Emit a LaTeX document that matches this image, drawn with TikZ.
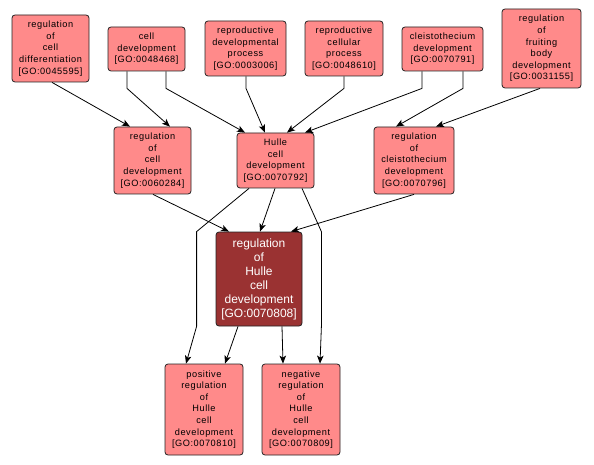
\documentclass[tikz,border=0pt]{standalone}
\usepackage{fontspec}
\setmainfont{Liberation Sans}
\newfontfamily\goFont[LetterSpace=6]{Liberation Sans}
\usepackage{xcolor}
\usetikzlibrary{arrows.meta,positioning,calc}
\definecolor{goFill}{HTML}{FF8A8A}
\definecolor{goFocus}{HTML}{9A3232}
\definecolor{goBorder}{HTML}{222222}
\tikzset{
    goterm/.style={rectangle,draw=goBorder,fill=goFill,rounded corners=3pt,line width=0.8pt,inner sep=0pt,align=center,font=\goFont\fontsize{9.2}{11.6}\selectfont},
    gofocus/.style={goterm,fill=goFocus,text=white,font=\fontsize{12}{14}\selectfont},
    isa/.style={-{Stealth[length=8pt,width=6.5pt,inset=2pt]},line width=0.8pt,black}
}
\begin{document}
\begin{tikzpicture}[x=1pt,y=-1pt]
  \useasboundingbox (0,0) rectangle (594,465);

  % Top row terms
  \node[goterm,minimum width=77pt,minimum height=67pt] (diff) at (50.5,48.5) {regulation\\of\\cell\\differentiation\\{[GO:0045595]}};
  \node[goterm,minimum width=77pt,minimum height=44pt] (celldev) at (146.5,49) {cell\\development\\{[GO:0048468]}};
  \node[goterm,minimum width=81pt,minimum height=55pt] (repdev) at (245.5,48.5) {reproductive\\developmental\\process\\{[GO:0003006]}};
  \node[goterm,minimum width=78pt,minimum height=55pt] (repcell) at (344,48.5) {reproductive\\cellular\\process\\{[GO:0048610]}};
  \node[goterm,minimum width=81pt,minimum height=44pt] (cleisto) at (442.5,49) {cleistothecium\\development\\{[GO:0070791]}};
  \node[goterm,minimum width=79pt,minimum height=79pt] (fruit) at (541.5,48.5) {regulation\\of\\fruiting\\body\\development\\{[GO:0031155]}};

  % Middle row terms
  \node[goterm,minimum width=77pt,minimum height=67pt] (regcell) at (152.5,160.5) {regulation\\of\\cell\\development\\{[GO:0060284]}};
  \node[goterm,minimum width=77pt,minimum height=55pt] (hulle) at (275.5,160.5) {Hulle\\cell\\development\\{[GO:0070792]}};
  \node[goterm,minimum width=80pt,minimum height=67pt] (regcleisto) at (414,160.5) {regulation\\of\\cleistothecium\\development\\{[GO:0070796]}};

  % Focus term
  \node[gofocus,minimum width=86pt,minimum height=94pt] (reghulle) at (259,279) {regulation\\of\\Hulle\\cell\\development\\{[GO:0070808]}};

  % Bottom row terms
  \node[goterm,minimum width=78pt,minimum height=91pt] (pos) at (204,409.5) {positive\\regulation\\of\\Hulle\\cell\\development\\{[GO:0070810]}};
  \node[goterm,minimum width=78pt,minimum height=91pt] (neg) at (301,409.5) {negative\\regulation\\of\\Hulle\\cell\\development\\{[GO:0070809]}};

  % Edges into middle row
  \draw[isa] ([xshift=1.5pt]diff.south) -- ([xshift=-22.5pt]regcell.north);
  \draw[isa] ([xshift=-19.5pt]celldev.south) -- ++(0,17) -- ([xshift=17.5pt]regcell.north);
  \draw[isa] ([xshift=19.5pt]celldev.south) -- ++(0,17) -- ([xshift=-30.5pt]hulle.north);
  \draw[isa] ([xshift=0.5pt]repdev.south) -- ++(0,12) -- ([xshift=-10.5pt]hulle.north);
  \draw[isa] (repcell.south) -- ++(0,12) -- ([xshift=11.5pt]hulle.north);
  \draw[isa] ([xshift=-20.5pt]cleisto.south) -- ++(0,17) -- ([xshift=29.5pt]hulle.north);
  \draw[isa] ([xshift=20.5pt]cleisto.south) -- ++(0,17) -- ([xshift=-18pt]regcleisto.north);
  \draw[isa] ([xshift=-1.5pt]fruit.south) -- ([xshift=22pt]regcleisto.north);

  % Edges into focus term
  \draw[isa] ([xshift=0.5pt]regcell.south) -- ([xshift=-30pt]reghulle.north);
  \draw[isa] ([xshift=-0.5pt]hulle.south) -- ([xshift=1pt]reghulle.north);
  \draw[isa] (regcleisto.south) -- ([xshift=32pt]reghulle.north);

  % Edges into bottom row
  \draw[isa] ([xshift=-26.5pt]hulle.south) -- ($(reghulle.north west)+(-19,0)$) -- ($(reghulle.south west)+(-19,0)$) -- ([xshift=-18pt]pos.north);
  \draw[isa] ([xshift=-21pt]reghulle.south) -- ([xshift=21pt]pos.north);
  \draw[isa] ([xshift=23pt]reghulle.south) -- ([xshift=-18pt]neg.north);
  \draw[isa] ([xshift=26.5pt]hulle.south) -- ($(reghulle.north east)+(19,0)$) -- ($(reghulle.south east)+(19,0)$) -- ([xshift=19pt]neg.north);
\end{tikzpicture}
\end{document}
